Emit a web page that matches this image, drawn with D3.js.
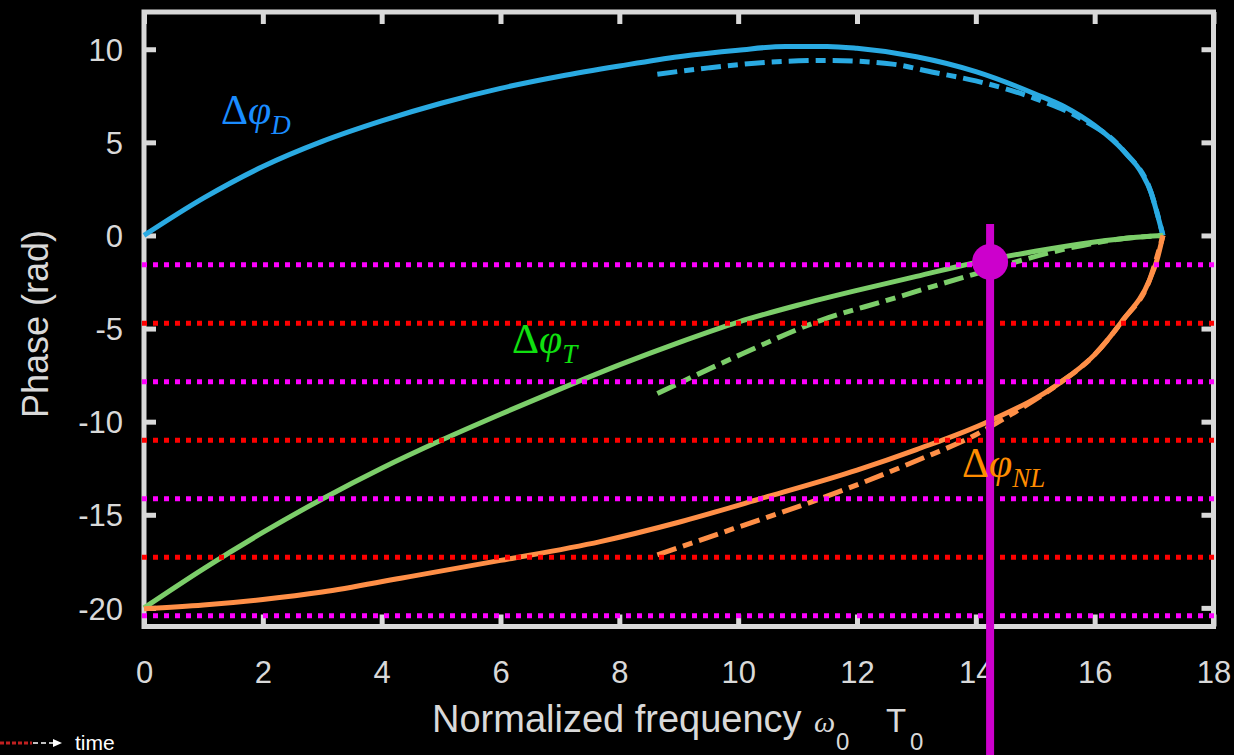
<!DOCTYPE html>
<html>
<head>
<meta charset="utf-8">
<script src="https://cdn.jsdelivr.net/npm/d3@7"></script>
<style>
html,body{margin:0;padding:0;background:#000;overflow:hidden;}
svg{display:block;}
</style>
</head>
<body>
<svg id="chart" width="1234" height="755"></svg>
<script>
// ---- data ----
const xTicks = [0, 2, 4, 6, 8, 10, 12, 14, 16, 18];
const yTicks = [-20, -15, -10, -5, 0, 5, 10];

// solid curves
const dOmega = [0, 1, 2, 3, 4, 5, 6, 7, 8, 9, 10, 10.8, 11.5, 12, 13, 14, 15, 15.5, 16, 16.5, 16.8, 16.95, 17.05, 17.15];
const dPhase = [0, 2.0, 3.7, 5.05, 6.15, 7.1, 7.9, 8.55, 9.1, 9.6, 9.95, 10.15, 10.15, 10.05, 9.6, 8.8, 7.6, 6.9, 5.9, 4.5, 3.3, 2.3, 1.2, 0];

const tOmega = [0, 1, 2, 3, 4, 5, 6, 7, 8, 9, 10, 11, 12, 13, 14, 15, 16, 16.6, 17.15];
const tPhase = [-20, -17.9, -15.95, -14.15, -12.5, -11.0, -9.6, -8.25, -6.95, -5.75, -4.65, -3.75, -2.95, -2.2, -1.45, -0.85, -0.35, -0.12, 0];

const nlOmega = [0, 1, 2, 3, 4.32, 6, 7.68, 9, 10.49, 12, 13, 14.24, 15.4, 16, 16.47, 16.92, 17.05, 17.15];
const nlPhase = [-20.05, -19.85, -19.55, -19.15, -18.41, -17.45, -16.44, -15.4, -14.03, -12.6, -11.5, -9.95, -7.95, -6.4, -4.57, -2.42, -1.3, 0];

// dash-dot (approximate) curves
const dApproxOmega = [8.64, 9.5, 10.49, 11.5, 12.6, 13.3, 14, 15, 15.75, 16.5, 16.95, 17.15];
const dApproxPhase = [8.66, 9.0, 9.3, 9.4, 9.2, 8.75, 8.3, 7.35, 6.3, 4.5, 2.3, 0];

const tApproxOmega = [8.64, 10.08, 11.38, 12.5, 13.95, 15.63, 16.4, 17.15];
const tApproxPhase = [-8.49, -6.34, -4.57, -3.49, -2.1, -0.64, -0.2, 0];

const nlApproxOmega = [8.64, 9.92, 11.33, 13.0, 14.0, 14.6, 15.2, 15.4, 16, 16.47, 16.92, 17.15];
const nlApproxPhase = [-17.15, -15.75, -14.2, -12.1, -10.7, -9.6, -8.4, -7.95, -6.4, -4.57, -2.42, 0];

// horizontal reference levels
const magentaLevels = [-1.571, -7.854, -14.137, -20.42];
const redLevels = [-4.712, -10.996, -17.279];

// marker
const markerOmega = [14.24];
const markerPhase = [-1.42];
const markerTop = [0.62];

// ---- layout ----
const svg = d3.select("#chart");
const x = d3.scaleLinear().domain([0, 18]).range([144, 1213.5]);
const y = d3.scaleLinear().domain([-21, 12]).range([626.5, 12]);
const frameColor = "#d9d9d9";
const sans = "'Liberation Sans', Arial, Helvetica, sans-serif";
const serif = "'Liberation Serif', 'Times New Roman', serif";
const fmt = d => String(d);

svg.append("rect").attr("width", 1234).attr("height", 755).attr("fill", "#000");

// frame
svg.append("rect")
  .attr("x", x(0)).attr("y", y(12))
  .attr("width", x(18) - x(0)).attr("height", y(-21) - y(12))
  .attr("fill", "none").attr("stroke", frameColor).attr("stroke-width", 5);

// inward ticks using axes
const tickLen = 12;
const axB = svg.append("g").attr("transform", `translate(0,${y(-21)})`)
  .call(d3.axisTop(x).tickValues(xTicks).tickSize(tickLen).tickFormat(""));
const axT = svg.append("g").attr("transform", `translate(0,${y(12)})`)
  .call(d3.axisBottom(x).tickValues(xTicks).tickSize(tickLen).tickFormat(""));
const axL = svg.append("g").attr("transform", `translate(${x(0)},0)`)
  .call(d3.axisRight(y).tickValues(yTicks).tickSize(tickLen).tickFormat(""));
const axR = svg.append("g").attr("transform", `translate(${x(18)},0)`)
  .call(d3.axisLeft(y).tickValues(yTicks).tickSize(tickLen).tickFormat(""));
[axB, axT, axL, axR].forEach(g => {
  g.select(".domain").remove();
  g.selectAll(".tick line").attr("stroke", frameColor).attr("stroke-width", 5);
});

// tick labels
const xl = svg.append("g").attr("transform", `translate(0,${y(-21)})`)
  .call(d3.axisBottom(x).tickValues(xTicks).tickSize(0).tickPadding(0).tickFormat(fmt));
xl.select(".domain").remove();
xl.selectAll("text").attr("fill", frameColor).attr("font-family", sans).attr("font-size", 31)
  .attr("y", 56).attr("dy", 0);

const yl = svg.append("g").attr("transform", `translate(${x(0)},0)`)
  .call(d3.axisLeft(y).tickValues(yTicks).tickSize(0).tickPadding(0).tickFormat(fmt));
yl.select(".domain").remove();
yl.selectAll("text").attr("fill", frameColor).attr("font-family", sans).attr("font-size", 31)
  .attr("x", -21).attr("dy", "0.36em");

// axis titles
svg.append("text")
  .attr("transform", `translate(48,${324}) rotate(-90)`)
  .attr("text-anchor", "middle")
  .attr("fill", frameColor).attr("font-family", sans).attr("font-size", 36)
  .text("Phase (rad)");

const xt = svg.append("text").attr("y", 732).attr("fill", frameColor).attr("font-family", sans);
xt.append("tspan").attr("x", 432).attr("font-size", 38).text("Normalized frequency");
xt.append("tspan").attr("x", 814).attr("font-size", 30).attr("font-style", "italic").attr("font-family", serif).text("ω");
xt.append("tspan").attr("x", 836).attr("y", 750).attr("font-size", 24).text("0");
xt.append("tspan").attr("x", 886).attr("y", 732).attr("font-size", 33).text("T");
xt.append("tspan").attr("x", 910).attr("y", 750).attr("font-size", 24).text("0");

// curves
const line = d3.line().x(d => x(d[0])).y(d => y(d[1])).curve(d3.curveMonotoneX);
const zip = (a, b) => a.map((v, i) => [v, b[i]]);

const blue = "#2aaae2", green = "#7cce6a", orange = "#ff8f47";
const curves = [
  {om: dOmega, ph: dPhase, c: blue, dash: null},
  {om: tOmega, ph: tPhase, c: green, dash: null},
  {om: nlOmega, ph: nlPhase, c: orange, dash: null},
  {om: dApproxOmega, ph: dApproxPhase, c: blue, dash: "20,7,10,7"},
  {om: tApproxOmega, ph: tApproxPhase, c: green, dash: "20,7,10,7"},
  {om: nlApproxOmega, ph: nlApproxPhase, c: orange, dash: "20,7,10,7"}
];
curves.forEach(cv => {
  svg.append("path")
    .attr("d", line(zip(cv.om, cv.ph)))
    .attr("fill", "none").attr("stroke", cv.c).attr("stroke-width", 5)
    .attr("stroke-dasharray", cv.dash);
});

// dotted reference lines
const levels = magentaLevels.map(v => ({v, c: "#ff00ff"})).concat(redLevels.map(v => ({v, c: "#ff0000"})));
svg.selectAll(".lvl").data(levels).enter().append("line")
  .attr("x1", x(0) - 2).attr("x2", x(18) + 3)
  .attr("y1", d => y(d.v)).attr("y2", d => y(d.v))
  .attr("stroke", d => d.c).attr("stroke-width", 5).attr("stroke-dasharray", "5,6");

// marker
svg.append("line")
  .attr("x1", x(markerOmega[0])).attr("x2", x(markerOmega[0]))
  .attr("y1", y(markerTop[0])).attr("y2", 755)
  .attr("stroke", "#cc00cc").attr("stroke-width", 8);
svg.append("circle")
  .attr("cx", x(markerOmega[0])).attr("cy", y(markerPhase[0])).attr("r", 18)
  .attr("fill", "#cc00cc");

// curve labels
function phiLabel(px, py, sub, color) {
  const t = svg.append("text").attr("x", px).attr("y", py).attr("fill", color).attr("font-family", serif).attr("font-size", 42);
  t.append("tspan").text("Δ");
  t.append("tspan").attr("font-style", "italic").text("φ");
  t.append("tspan").attr("font-style", "italic").attr("font-size", 27).attr("dy", 10).text(sub);
}
phiLabel(221, 124, "D", "#1a8cff");
phiLabel(512, 353, "T", "#10e010");
phiLabel(962, 477, "NL", "#ff8c00");

// time arrow legend (partial)
svg.append("line").attr("x1", 0).attr("x2", 32).attr("y1", 743).attr("y2", 743)
  .attr("stroke", "#c02020").attr("stroke-width", 3).attr("stroke-dasharray", "4,2");
svg.append("line").attr("x1", 33).attr("x2", 55).attr("y1", 743).attr("y2", 743)
  .attr("stroke", "#ffffff").attr("stroke-width", 1.5).attr("stroke-dasharray", "5,3");
svg.append("path").attr("d", "M53,739 L62,743 L53,747 Z").attr("fill", "#ffffff");
svg.append("text").attr("x", 75).attr("y", 750).attr("fill", "#ffffff")
  .attr("font-family", sans).attr("font-size", 21).text("time");
</script>
</body>
</html>
